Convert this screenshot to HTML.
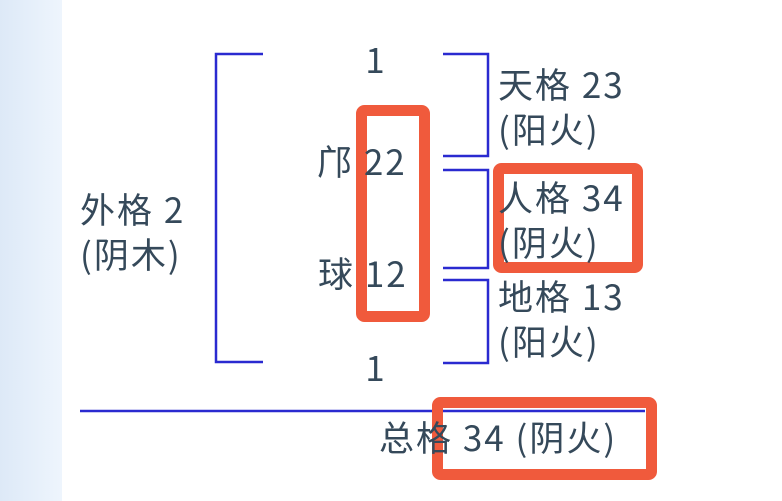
<!DOCTYPE html>
<html><head><meta charset="utf-8"><style>
html,body{margin:0;padding:0;width:782px;height:501px;overflow:hidden;background:#fff}
svg text{font-family:"Noto Sans CJK SC","Liberation Sans",sans-serif;font-size:35px;letter-spacing:2px;fill:#35495a}
</style></head><body>
<svg width="782" height="501" viewBox="0 0 782 501" xmlns="http://www.w3.org/2000/svg">
<defs><linearGradient id="g" x1="0" x2="1" y1="0" y2="0"><stop offset="0" stop-color="#dde9f7"/><stop offset="1" stop-color="#eef5fd"/></linearGradient></defs>
<rect x="0" y="0" width="62" height="501" fill="url(#g)"/>
<g fill="none" stroke="#2a2ad0" stroke-width="2.5">
<polyline points="263,54 216,54 216,362 263,362"/>
<polyline points="443,54 488,54 488,156 443,156"/>
<polyline points="443,170 488,170 488,268 443,268"/>
<polyline points="443,280 488,280 488,363 443,363"/>
<line x1="80" y1="411" x2="645" y2="411"/>
</g>
<g fill="none" stroke="#f05a3c" stroke-width="11">
<rect x="361.5" y="110.5" width="63" height="206" rx="3"/>
<rect x="498.5" y="168.5" width="139" height="99" rx="3"/>
<rect x="437.5" y="402.5" width="214" height="72" rx="3"/>
</g>
<text x="376" y="73" text-anchor="middle">1</text>
<text x="317" y="175">邝 22</text>
<text x="318" y="287">球 12</text>
<text x="376" y="381" text-anchor="middle">1</text>
<text x="498" y="98">天格 23</text>
<text x="498" y="143">(阳火)</text>
<text x="498" y="211">人格 34</text>
<text x="498" y="256">(阴火)</text>
<text x="498" y="310">地格 13</text>
<text x="498" y="355">(阳火)</text>
<text x="80" y="223">外格 2</text>
<text x="80" y="268">(阴木)</text>
<text x="379" y="451">总格 34 (阴火)</text>
</svg>
</body></html>
